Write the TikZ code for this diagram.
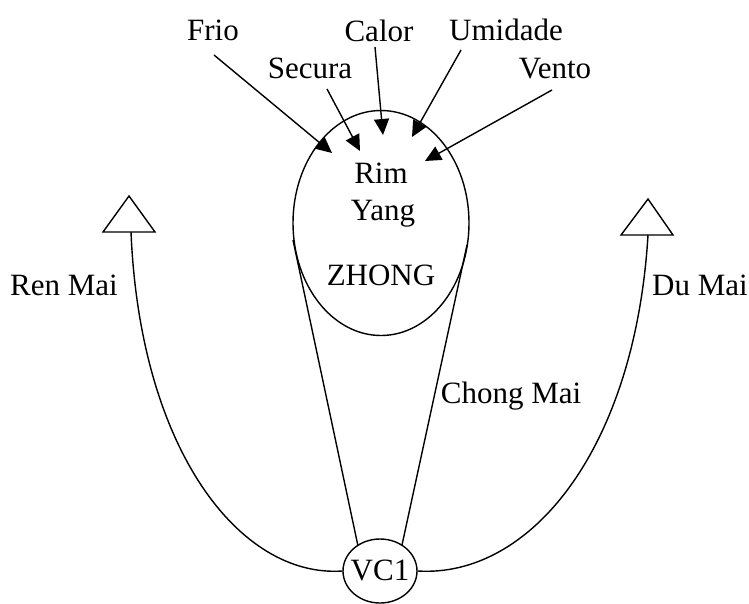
\documentclass[tikz,border=0pt]{standalone}
\usepackage{fontspec}
\setmainfont{Liberation Serif}
\usetikzlibrary{shapes.geometric,arrows.meta}
\begin{document}
\begin{tikzpicture}[x=1pt,y=-1pt,
  lbl/.style={anchor=base,inner sep=0pt,font=\fontsize{31}{36}\selectfont},
  ln/.style={line width=1.4pt,black},
  arr/.style={ln,-{Triangle[length=16pt,width=15pt]}},
  tri/.style={line width=1.4pt,fill=white}]
\useasboundingbox (0,0) rectangle (749,603);
% main ellipse
\node[draw,ln,ellipse,minimum width=176pt,minimum height=225pt,inner sep=0pt] (zhong) at (381,223) {};
\node[lbl] (rim) at (381,183) {Rim};
\node[lbl] (yang) at (383,220) {Yang};
\node[lbl] (zh) at (381,285) {ZHONG};
% VC1
\node[draw,ln,ellipse,minimum width=74pt,minimum height=64pt,inner sep=0pt] (vc) at (380,571) {};
\node[lbl] (vct) at (380,580) {VC1};
% top labels
\node[lbl] (frio) at (213,40) {Frio};
\node[lbl] (calor) at (379,41) {Calor};
\node[lbl] (umid) at (506,40) {Umidade};
\node[lbl] (secura) at (310,78) {Secura};
\node[lbl] (vento) at (555,78) {Vento};
% side labels
\node[lbl] (ren) at (64,295) {Ren Mai};
\node[lbl] (du) at (700,295) {Du Mai};
\node[lbl] (chong) at (511,403) {Chong Mai};
% arrow ends
\coordinate (frioS) at (214,55);   \coordinate (frioT) at (332,153);
\coordinate (secS) at (327,89);    \coordinate (secT) at (360,151);
\coordinate (calS) at (375,47);    \coordinate (calT) at (383,135);
\coordinate (umiS) at (461,50);    \coordinate (umiT) at (412,137);
\coordinate (venS) at (552,90);    \coordinate (venT) at (425,161);
\draw[arr] (frioS) -- (frioT);
\draw[arr] (secS) -- (secT);
\draw[arr] (calS) -- (calT);
\draw[arr] (umiS) -- (umiT);
\draw[arr] (venS) -- (venT);
% Chong Mai lines
\coordinate (chL) at (293,240);
\coordinate (chR) at (467,245);
\coordinate (vcL) at (358,546);
\coordinate (vcR) at (402,545);
\draw[ln] (chL) -- (vcL);
\draw[ln] (chR) -- (vcR);
% triangles
\coordinate (renB) at (131,232);
\coordinate (duB) at (648,235);
\draw[tri] (103,232) -- (129,196) -- (155,232) -- cycle;
\draw[tri] (621,235) -- (648,199) -- (673,235) -- cycle;
% Ren Mai and Du Mai curves
\draw[ln] (renB) .. controls (140,450) and (240,578) .. (vc.west);
\draw[ln] (duB) .. controls (635,450) and (530,578) .. (vc.east);
\end{tikzpicture}
\end{document}
